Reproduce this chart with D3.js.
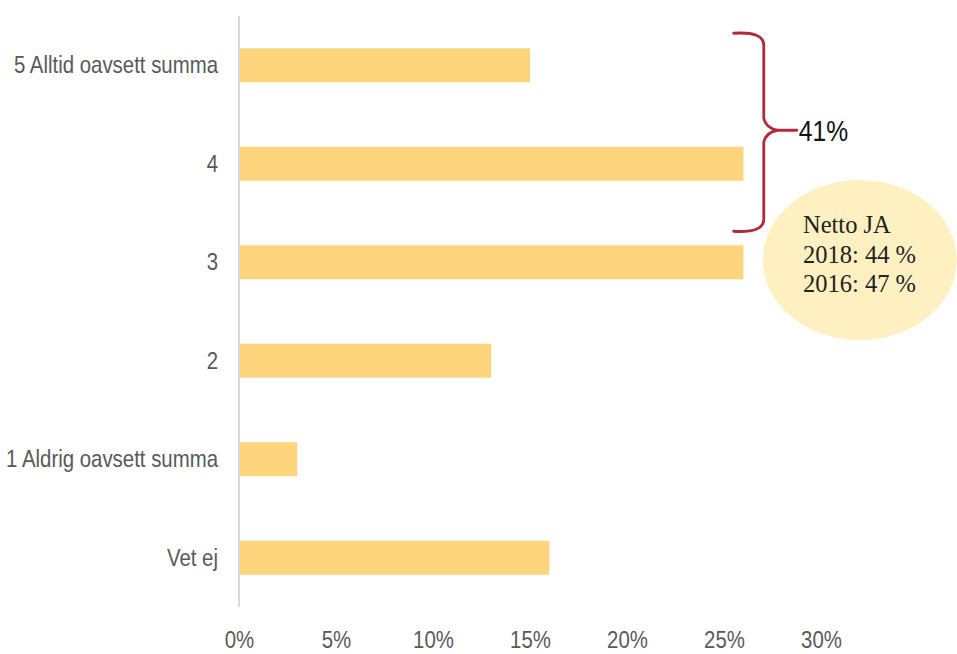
<!DOCTYPE html>
<html><head><meta charset="utf-8">
<script src="https://cdn.jsdelivr.net/npm/d3@7"></script>
<style>
html,body{margin:0;padding:0;background:#fff;}
svg{display:block;}
</style></head>
<body>
<svg id="chart" width="957" height="654"></svg>
<script>
const categories = ["5 Alltid oavsett summa", "4", "3", "2", "1 Aldrig oavsett summa", "Vet ej"];
const values = [15, 26, 26, 13, 3, 16];
const tickValues = [0, 5, 10, 15, 20, 25, 30];
const braceLabel = "41%";
const noteLines = ["Netto JA", "2018: 44 %", "2016: 47 %"];

const svg = d3.select("#chart");
const x = d3.scaleLinear().domain([0, 30]).range([239, 821]);
const y = d3.scaleBand().domain(categories).range([16, 607]).paddingInner(0.655).paddingOuter(0.3275);

const labelFont = "'Liberation Sans','Arimo',Arial,sans-serif";
const squeeze = 0.85;

// bars
svg.selectAll("rect.bar").data(categories).enter().append("rect")
  .attr("class", "bar")
  .attr("x", x(0))
  .attr("y", d => y(d))
  .attr("width", (d, i) => x(values[i]) - x(0))
  .attr("height", y.bandwidth())
  .attr("fill", "#FED47D");

// y axis line
svg.append("line").attr("x1", x(0)).attr("x2", x(0)).attr("y1", 16).attr("y2", 607)
  .attr("stroke", "#d9d9d9").attr("stroke-width", 2);

// y labels (condensed look)
svg.selectAll("text.ylab").data(categories).enter().append("text")
  .attr("class", "ylab")
  .attr("transform", d => `translate(${x(0) - 21},${y(d) + y.bandwidth() / 2}) scale(${squeeze},1)`)
  .attr("dy", "0.33em")
  .attr("text-anchor", "end")
  .attr("font-family", labelFont)
  .attr("font-size", 24)
  .attr("fill", "#595959")
  .text(d => d);

// x tick labels
const xAxis = d3.axisBottom(x).tickValues(tickValues).tickFormat(d => d + "%").tickSize(0).tickPadding(0);
const gx = svg.append("g").attr("transform", "translate(0,631)").call(xAxis);
gx.select(".domain").remove();
gx.selectAll(".tick text")
  .attr("transform", `scale(${squeeze},1)`)
  .attr("font-family", labelFont)
  .attr("font-size", 24)
  .attr("fill", "#595959")
  .attr("dy", "0.71em");

// brace
const yTop = y(categories[0]) + y.bandwidth() / 2 - 32;
const yBot = y(categories[2]) + y.bandwidth() / 2 - 31;
const yMid = y(categories[0]) + y.bandwidth() / 2 + 65;
const xt = x(25.5), xs = x(27.05), xp = x(28.75);
const r = 8;
const brace = d3.path();
brace.moveTo(xt, yTop);
brace.quadraticCurveTo(xs, yTop - 2, xs, yTop + r + 4);
brace.lineTo(xs, yMid - r - 4);
brace.quadraticCurveTo(xs + 2, yMid - 2, xs + 14, yMid);
brace.lineTo(xp, yMid);
brace.moveTo(xs + 14, yMid);
brace.quadraticCurveTo(xs + 2, yMid + 2, xs, yMid + r + 4);
brace.lineTo(xs, yBot - r - 4);
brace.quadraticCurveTo(xs, yBot + 2, xt, yBot);
svg.append("path").attr("d", brace.toString())
  .attr("fill", "none").attr("stroke", "#B02A3C").attr("stroke-width", 2.8)
  .attr("stroke-linejoin", "round").attr("stroke-linecap", "round");

svg.append("text")
  .attr("transform", `translate(${xp + 2},${yMid}) scale(${squeeze},1)`)
  .attr("dy", "0.36em")
  .attr("font-family", labelFont).attr("font-size", 29).attr("fill", "#111")
  .text(braceLabel);

// ellipse note
svg.append("ellipse").attr("cx", x(32)).attr("cy", 260).attr("rx", 97).attr("ry", 80)
  .attr("fill", "#FFF0C2");
svg.selectAll("text.note").data(noteLines).enter().append("text")
  .attr("class", "note")
  .attr("x", 803)
  .attr("y", (d, i) => 233 + i * 29.5)
  .attr("font-family", "'Liberation Serif','DejaVu Serif',serif")
  .attr("font-size", 24.5)
  .attr("fill", "#222")
  .text(d => d);
</script>
</body></html>
